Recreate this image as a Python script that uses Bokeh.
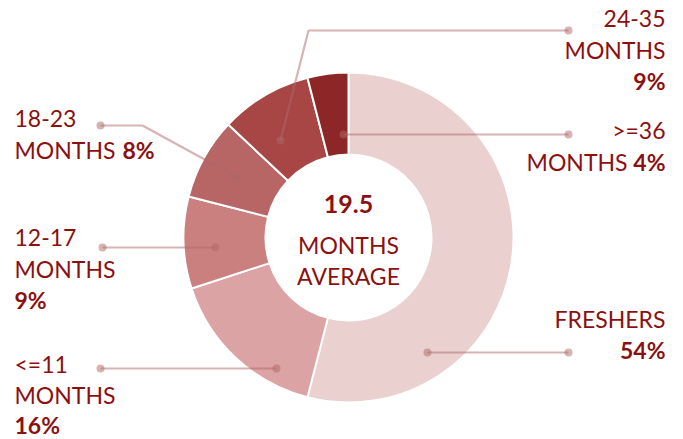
import math
from bokeh.plotting import figure
from bokeh.models import Range1d
from bokeh.core.properties import value
from bokeh.embed import file_html
from bokeh.resources import INLINE

# ---- data ----
categories = ["FRESHERS", "<=11", "12-17", "18-23", "24-35", ">=36"]
shares = [54, 16, 9, 8, 9, 4]
colors = ["#ebd0d0", "#dba3a3", "#cb8080", "#b76565", "#a84646", "#8d2626"]
average_months = 19.5
unit_word = "MONTHS"
average_word = "AVERAGE"

# ---- styling / layout ----
TXT = "#8b1010"
FONT = value("Lato")
FS = "23px"
CX, CY = 348, 237
R_OUT, R_IN = 165, 83
DY = -10  # text baseline correction

p = figure(width=683, height=439, output_backend="svg", toolbar_location=None,
           x_range=Range1d(0, 683), y_range=Range1d(-439, 0),
           min_border=0, background_fill_color="white", border_fill_color="white")
p.axis.visible = False
p.grid.visible = False
p.outline_line_color = None

# wedges (clockwise from top)
total = sum(shares)
starts, ends = [], []
cum = 0
for s in shares:
    starts.append(math.pi / 2 - 2 * math.pi * cum / total)
    cum += s
    ends.append(math.pi / 2 - 2 * math.pi * cum / total)

p.annular_wedge(x=CX, y=-CY, inner_radius=R_IN, outer_radius=R_OUT,
                start_angle=starts, end_angle=ends, direction="clock",
                fill_color=colors, line_color="white", line_width=2)

# leader lines (reference-pixel layout)
leaders = [
    [(427, 352), (568, 352)],
    [(276, 368), (100, 368)],
    [(215, 247), (102, 247)],
    [(237, 177), (142, 125), (100, 125)],
    [(280, 140), (308, 30), (568, 30)],
    [(343, 134), (568, 134)],
]
xs = [[pt[0] for pt in L] for L in leaders]
ys = [[-pt[1] for pt in L] for L in leaders]
LC = "#b06868"
p.multi_line(xs=xs, ys=ys, line_color=LC, line_alpha=0.5, line_width=2.2)
dx = [L[0][0] for L in leaders] + [L[-1][0] for L in leaders]
dy = [-L[0][1] for L in leaders] + [-L[-1][1] for L in leaders]
p.scatter(dx, dy, size=8, fill_color=LC, fill_alpha=0.5, line_color=None)

def txt(x, y, t, align="left", bold=False, size=FS):
    p.text(x=[x], y=[-(y + DY)], text=[t], text_font=FONT, text_font_size=size,
           text_color=TXT, text_align=align, text_baseline="alphabetic",
           text_font_style="bold" if bold else "normal")

pct = [f"{s}%" for s in shares]
# FRESHERS
txt(665, 328, categories[0], "right")
txt(665, 359, pct[0], "right", True)
# <=11
txt(14, 373, categories[1])
txt(14, 404, unit_word)
txt(14, 434, pct[1], bold=True)
# 12-17
txt(14, 247, categories[2])
txt(14, 278, unit_word)
txt(14, 309, pct[2], bold=True)
# 18-23
txt(14, 128, categories[3])
txt(14, 159, unit_word)
txt(122, 159, pct[3], bold=True)
# 24-35
txt(665, 28, categories[4], "right")
txt(665, 59, unit_word, "right")
txt(665, 90, pct[4], "right", True)
# >=36
txt(665, 139, categories[5], "right")
txt(627, 171, unit_word, "right")
txt(665, 171, pct[5], "right", True)
# centre
txt(CX, 213, f"{average_months}", "center", True, "25px")
txt(CX, 254, unit_word, "center")
txt(CX, 285, average_word, "center")

open("out.html", "w").write(file_html(p, INLINE))
